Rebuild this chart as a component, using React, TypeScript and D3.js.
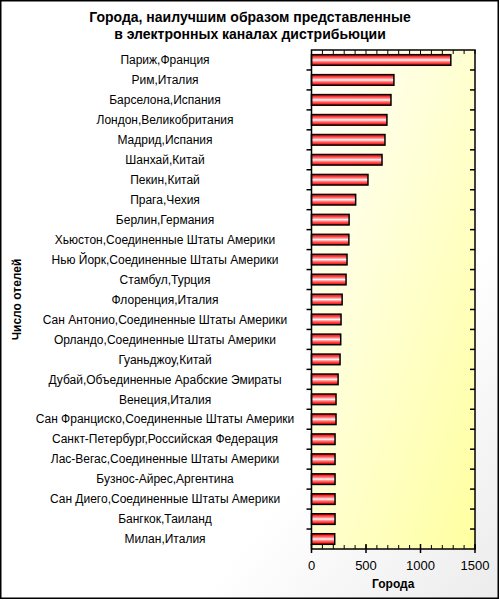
import React from 'react';
import * as d3 from 'd3';

const cities = [
  'Париж,Франция',
  'Рим,Италия',
  'Барселона,Испания',
  'Лондон,Великобритания',
  'Мадрид,Испания',
  'Шанхай,Китай',
  'Пекин,Китай',
  'Прага,Чехия',
  'Берлин,Германия',
  'Хьюстон,Соединенные Штаты Америки',
  'Нью Йорк,Соединенные Штаты Америки',
  'Стамбул,Турция',
  'Флоренция,Италия',
  'Сан Антонио,Соединенные Штаты Америки',
  'Орландо,Соединенные Штаты Америки',
  'Гуаньджоу,Китай',
  'Дубай,Объединенные Арабские Эмираты',
  'Венеция,Италия',
  'Сан Франциско,Соединенные Штаты Америки',
  'Санкт-Петербург,Российская Федерация',
  'Лас-Вегас,Соединенные Штаты Америки',
  'Бузнос-Айрес,Аргентина',
  'Сан Диего,Соединенные Штаты Америки',
  'Бангкок,Таиланд',
  'Милан,Италия',
];

const hotels = [
  1278, 756, 729, 692, 674, 647, 518, 405, 345, 343, 326, 317, 281, 271, 268,
  262, 244, 225, 225, 216, 216, 216, 216, 216, 213,
];

const majorTicks = [0, 500, 1000, 1500];
const minorTicks = d3.range(0, 1501, 100);

const titleLines = ['Города, наилучшим образом представленные', 'в электронных каналах дистрибьюции'];

export default function App() {
  const W = 500;
  const H = 600;
  const left = 311.5;
  const right = 475;
  const top = 50;
  const bottom = 549;
  const font = '"Liberation Sans", Arial, sans-serif';

  const x = d3.scaleLinear().domain([0, 1500]).range([left, right]);
  const y = d3.scaleBand<string>().domain(cities).range([top, bottom]).paddingInner(0.47).paddingOuter(0.235);
  const band = d3.scaleBand<string>().domain(cities).range([top, bottom]);
  const boundaries = cities.slice(1).map((c) => band(c) as number);

  return (
    <div style={{ position: 'absolute', left: 0, top: 0, width: W, height: H }}>
      <svg width={W} height={H} style={{ display: 'block' }} fontFamily={font}>
        <defs>
          <linearGradient id="outerBg" x1="0" y1="0" x2="1" y2="1">
            <stop offset="0%" stopColor="#ffffff" />
            <stop offset="70%" stopColor="#ffffff" />
            <stop offset="100%" stopColor="#ececec" />
          </linearGradient>
          <linearGradient id="plotBg" x1="0" y1="0" x2="1" y2="1">
            <stop offset="0%" stopColor="#ffffff" />
            <stop offset="100%" stopColor="#ffffa0" />
          </linearGradient>
          <linearGradient id="barFill" x1="0" y1="0" x2="0" y2="1">
            <stop offset="0%" stopColor="#ff0000" />
            <stop offset="20%" stopColor="#ff3a3a" />
            <stop offset="38%" stopColor="#ff9a9a" />
            <stop offset="50%" stopColor="#ffffff" />
            <stop offset="62%" stopColor="#ff9a9a" />
            <stop offset="80%" stopColor="#ff3a3a" />
            <stop offset="100%" stopColor="#ff0000" />
          </linearGradient>
        </defs>

        <rect x={0.75} y={0.75} width={W - 2.5} height={H - 2.5} fill="url(#outerBg)" stroke="#000" strokeWidth={1.5} />

        {titleLines.map((t, i) => (
          <text key={t} x={250} y={22 + i * 17} textAnchor="middle" fontSize={14} fontWeight="bold">
            {t}
          </text>
        ))}

        <rect x={left} y={top} width={right - left} height={bottom - top} fill="url(#plotBg)" />

        {cities.map((c, i) => (
          <g key={c}>
            <rect
              x={x(0)}
              y={y(c)}
              width={x(hotels[i]) - x(0)}
              height={y.bandwidth()}
              fill="url(#barFill)"
              stroke="#000"
              strokeWidth={1.5}
            />
            <text
              x={165}
              y={(band(c) as number) + band.bandwidth() / 2}
              dy="0.35em"
              textAnchor="middle"
              fontSize={12}
            >
              {c}
            </text>
          </g>
        ))}

        {/* frame */}
        <rect x={left} y={top} width={right - left} height={bottom - top} fill="none" stroke="#000" strokeWidth={1.5} />

        {/* category ticks: left outside, right inside */}
        {boundaries.map((b) => (
          <g key={b}>
            <line x1={left - 5} x2={left} y1={b} y2={b} stroke="#000" strokeWidth={1.5} />
            <line x1={right - 5} x2={right} y1={b} y2={b} stroke="#000" strokeWidth={1.5} />
          </g>
        ))}

        {/* value ticks */}
        {minorTicks.map((t) => (
          <g key={t}>
            <line x1={x(t)} x2={x(t)} y1={top} y2={top + 4} stroke="#000" />
            <line x1={x(t)} x2={x(t)} y1={bottom - 4} y2={bottom} stroke="#000" />
          </g>
        ))}
        {majorTicks.map((t) => (
          <g key={t}>
            <line x1={x(t)} x2={x(t)} y1={bottom - 5} y2={bottom + 4} stroke="#000" strokeWidth={1.5} />
            <text x={x(t)} y={570} textAnchor="middle" fontSize={13}>
              {t}
            </text>
          </g>
        ))}

        <text x={(left + right) / 2} y={588} textAnchor="middle" fontSize={12} fontWeight="bold">
          Города
        </text>
        <text
          transform={`translate(21, ${(top + bottom) / 2}) rotate(-90)`}
          textAnchor="middle"
          fontSize={12}
          fontWeight="bold"
        >
          Число отелей
        </text>
      </svg>
    </div>
  );
}
